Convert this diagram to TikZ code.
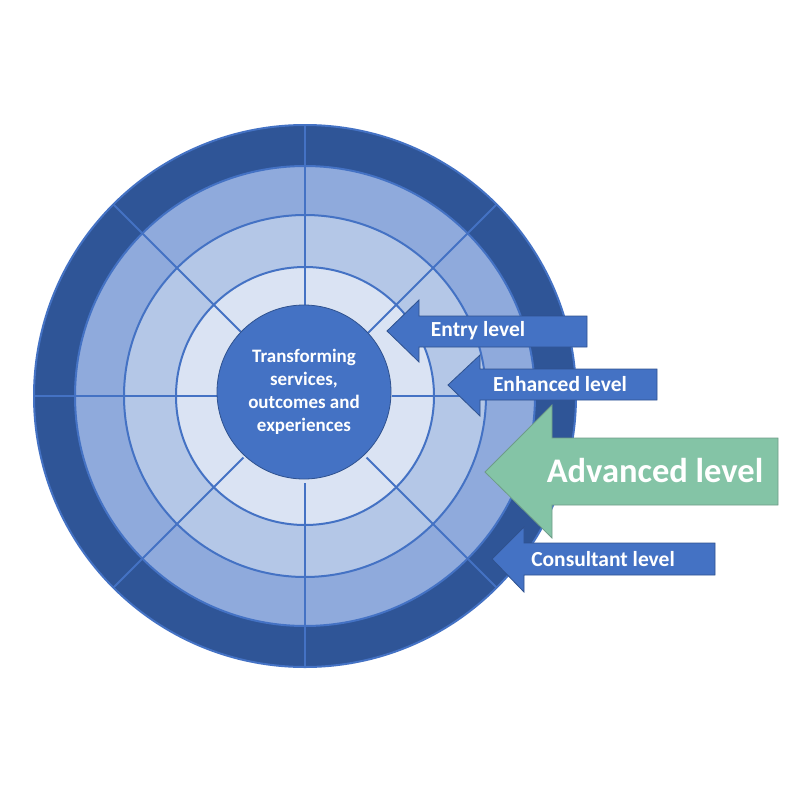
\documentclass[tikz,border=0pt]{standalone}
\usepackage{fontspec}
\setmainfont{Carlito}
\definecolor{ringA}{HTML}{2F5597}
\definecolor{ringB}{HTML}{8FAADC}
\definecolor{ringC}{HTML}{B4C7E7}
\definecolor{ringD}{HTML}{DAE3F3}
\definecolor{hubblue}{HTML}{4472C4}
\definecolor{lineblue}{HTML}{4472C4}
\definecolor{edgeblue}{HTML}{2F528F}
\definecolor{advgreen}{HTML}{84C4A6}
\definecolor{advedge}{HTML}{6E9C88}
\tikzset{
  ringline/.style={draw=lineblue, line width=2pt},
  spoke/.style={draw=lineblue, line width=1.8pt},
  bluearrow/.style={fill=hubblue, draw=edgeblue, line width=0.8pt},
  greenarrow/.style={fill=advgreen, draw=advedge, line width=0.8pt},
  lbl/.style={text=white, font=\fontsize{21.5}{24}\selectfont\bfseries, inner sep=0pt},
  biglbl/.style={text=white, font=\fontsize{34.5}{38}\selectfont\bfseries, inner sep=0pt},
}
\begin{document}
\begin{tikzpicture}[x=1pt,y=-1pt]
\useasboundingbox (0,0) rectangle (800,800);
\coordinate (c) at (305,396);
\fill[ringA] (c) circle (271pt);
\fill[ringB] (c) circle (230pt);
\fill[ringC] (c) circle (181pt);
\fill[ringD] (c) circle (129pt);
\foreach \a in {0,45,...,315} \draw[spoke] (c) ++(\a:87) -- ++(\a:184);
\draw[ringline] (c) circle (230pt);
\draw[ringline] (c) circle (181pt);
\draw[ringline] (c) circle (129pt);
\draw[ringline] (c) circle (271pt);
\node[circle, fill=hubblue, draw=edgeblue, line width=0.8pt, minimum size=174pt, inner sep=0pt,
      text=white, align=center, font=\fontsize{19}{23}\selectfont\bfseries] (hub) at (304,392)
  {Transforming\\services,\\outcomes and\\experiences};
% Entry level
\draw[bluearrow] (387,331) -- (419,300) -- (419,316) -- (587,316) -- (587,347) -- (419,347) -- (419,362) -- cycle;
\node[lbl] (entry) at (478,331) {Entry level};
% Enhanced level
\draw[bluearrow] (448,385) -- (480,355) -- (480,369) -- (657,369) -- (657,400) -- (480,400) -- (480,416) -- cycle;
\node[lbl] (enhanced) at (560,384) {Enhanced level};
% Advanced level
\draw[greenarrow] (485,472) -- (552,405) -- (552,438) -- (778,438) -- (778,505) -- (552,505) -- (552,538) -- cycle;
\node[biglbl] (advanced) at (655,471) {Advanced level};
% Consultant level
\draw[bluearrow] (492,559) -- (524,527) -- (524,543) -- (715,543) -- (715,575) -- (524,575) -- (524,592) -- cycle;
\node[lbl] (consultant) at (603,559) {Consultant level};
\end{tikzpicture}
\end{document}
